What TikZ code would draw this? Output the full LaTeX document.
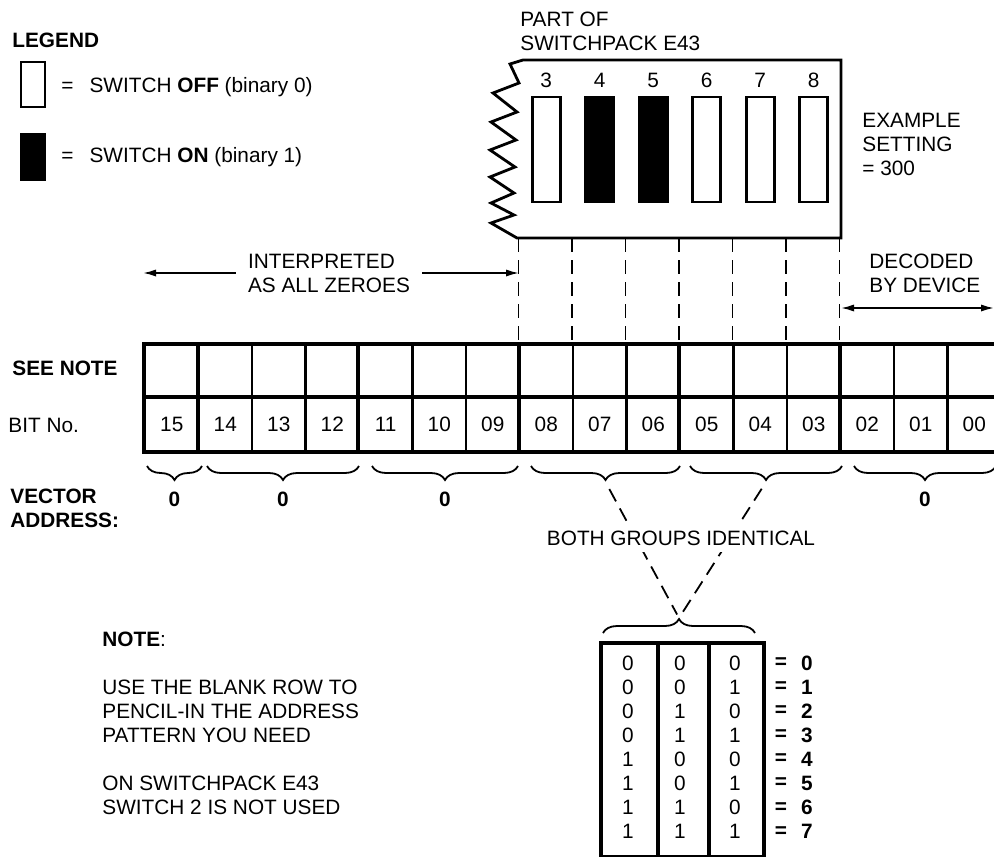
\documentclass[tikz,border=0pt]{standalone}
\usepackage{fontspec}
\setmainfont{Liberation Sans}
\usetikzlibrary{arrows.meta,decorations.pathreplacing}
\def\fs{\fontsize{10.4}{12}\selectfont}

\begin{document}
\begin{tikzpicture}[x=0.5pt,y=-0.5pt,
  every node/.style={inner sep=0pt,font=\fs},
  bf/.style={font=\fs\bfseries},
  cell/.style={draw,line width=1.1pt,minimum width=26.75pt,minimum height=26.5pt},
  heavy/.style={line width=1.9pt},
  swoff/.style={draw,line width=1.4pt,minimum width=14pt,minimum height=52.5pt},
  swon/.style={swoff,fill=black},
  dashline/.style={line width=0.9pt,dash pattern=on 7pt off 4pt},
  brc/.style={decorate,decoration={brace,mirror,amplitude=7pt},line width=0.9pt},
  brcup/.style={decorate,decoration={brace,amplitude=7pt},line width=0.9pt},
  arr/.style={-{Latex[length=6.5pt,width=3.6pt]},line width=0.9pt},
  darr/.style={{Latex[length=6.5pt,width=3.6pt]}-{Latex[length=6.5pt,width=3.6pt]},line width=0.9pt}
]
\useasboundingbox (0,0) rectangle (994,856);

% legend
\node[anchor=west,bf] (leg) at (12,40) {LEGEND};
\node[swoff,minimum width=12pt,minimum height=22.5pt] (lgoff) at (33,84.5) {};
\node[anchor=west] (lgofft) at (61,87) {=\hspace{8pt}SWITCH \textbf{OFF} (binary 0)};
\node[swon,minimum width=12pt,minimum height=22.5pt] (lgon) at (33,157) {};
\node[anchor=west] (lgont) at (61,157) {=\hspace{8pt}SWITCH \textbf{ON} (binary 1)};

% switchpack
\node[anchor=north west,align=left] (part) at (520,12) {PART OF\\SWITCHPACK E43};
\draw[line width=1.4pt] (841,60) -- (523,60) -- (510,64) -- (519,83) -- (493,93) -- (517,112)
  -- (491,122) -- (516,140) -- (490,150) -- (515,167) -- (490,177) -- (514,193)
  -- (491,203) -- (514,215) -- (491,223) -- (517,238) -- (841,238) -- cycle;
\foreach \s/\st [count=\i from 7] in {3/swoff,4/swon,5/swon,6/swoff,7/swoff,8/swoff}{
  \node (lab\s) at ({171.75+53.5*\i},80) {\s};
  \node[\st] (sw\s) at ({171.75+53.5*\i},149.5) {};
}
\node[anchor=north west,align=left] (exset) at (862,113) {EXAMPLE\\SETTING\\= 300};

% ranges
\node[align=left,inner xsep=6pt] (interp) at (329,273) {INTERPRETED\\AS ALL ZEROES};
\coordinate (intL) at (143,272);
\coordinate (intR) at (519,272);
\draw[arr] (interp.west) -- (interp.west -| intL);
\draw[arr] (interp.east) -- (interp.east -| intR);
\node[anchor=north west,align=left] (decod) at (869,254) {DECODED\\BY DEVICE};
\coordinate (decL) at (841,308);
\coordinate (decR) at (994,308);
\draw[darr] (decL) -- (decR);

% bit table
\node[anchor=west,bf] (seenote) at (12,368) {SEE NOTE};
\node[anchor=west] (bitno) at (8,425) {BIT No.};
\node[anchor=north west,align=left,bf] (vecadr) at (10,489) {VECTOR\\ADDRESS:};
\foreach \b [count=\i from 0] in {15,14,13,12,11,10,09,08,07,06,05,04,03,02,01,00}{
  \node[cell] (s\b) at ({171.75+53.5*\i},371.5) {};
  \node[cell] (n\b) at ({171.75+53.5*\i},424.5) {\b};
}
\draw[heavy] (s15.north west) rectangle (n00.south east);
\draw[heavy] (n15.north west) -- (n00.north east);
\foreach \b in {14,11,08,05,02}
  \draw[heavy] (s\b.north west) -- (n\b.south west);
\coordinate (boxb) at (519,238);
\foreach \b in {08,07,06,05,04,03,02}
  \draw[dashline] (s\b.north west |- boxb) -- (s\b.north west);

% braces
\foreach \xa/\xb/\nm in {147/202/1,207/359/2,372/518/3,531/680/4,690/842/5,854/996/6}{
  \draw[brc] (\xa,466) -- (\xb,466);
  \coordinate (tip\nm) at ({(\xa+\xb)/2},482);
}
\foreach \nm in {1,2,3,6}
  \node[bf] (zero\nm) at (tip\nm |- 0,499) {0};
\draw[brcup] (603,633) -- (755,633);
\coordinate (tipbot) at (679,618);
\draw[dashline,shorten <=4pt,shorten >=2pt] (tip4) -- (tipbot);
\draw[dashline,shorten <=4pt,shorten >=2pt] (tip5) -- (tipbot);
\node[fill=white,inner xsep=2pt,inner ysep=3.5pt] (both) at (681,538) {BOTH GROUPS IDENTICAL};

% truth table
\node[draw,heavy,anchor=north west,minimum width=28.5pt,minimum height=107pt] (colA) at (599,641) {};
\node[draw,heavy,anchor=north west,minimum width=25.5pt,minimum height=107pt] (colB) at (656,641) {};
\node[draw,heavy,anchor=north west,minimum width=27.5pt,minimum height=107pt] (colC) at (707,641) {};
\foreach \p/\q/\r [count=\j from 0] in {0/0/0,0/0/1,0/1/0,0/1/1,1/0/0,1/0/1,1/1/0,1/1/1}{
  \node (ta\j) at (628,{663+24.1*\j}) {\p};
  \node (tb\j) at (680,{663+24.1*\j}) {\q};
  \node (tc\j) at (735,{663+24.1*\j}) {\r};
  \node[bf] (eq\j) at (781,{663+24.1*\j}) {=};
  \node[bf] (val\j) at (807,{663+24.1*\j}) {\j};
}

% note
\node[anchor=north west,align=left] (note) at (102,632) {\textbf{NOTE}:\\[12pt]USE THE BLANK ROW TO\\PENCIL-IN THE ADDRESS\\PATTERN YOU NEED\\[12pt]ON SWITCHPACK E43\\SWITCH 2 IS NOT USED};
\end{tikzpicture}
\end{document}
